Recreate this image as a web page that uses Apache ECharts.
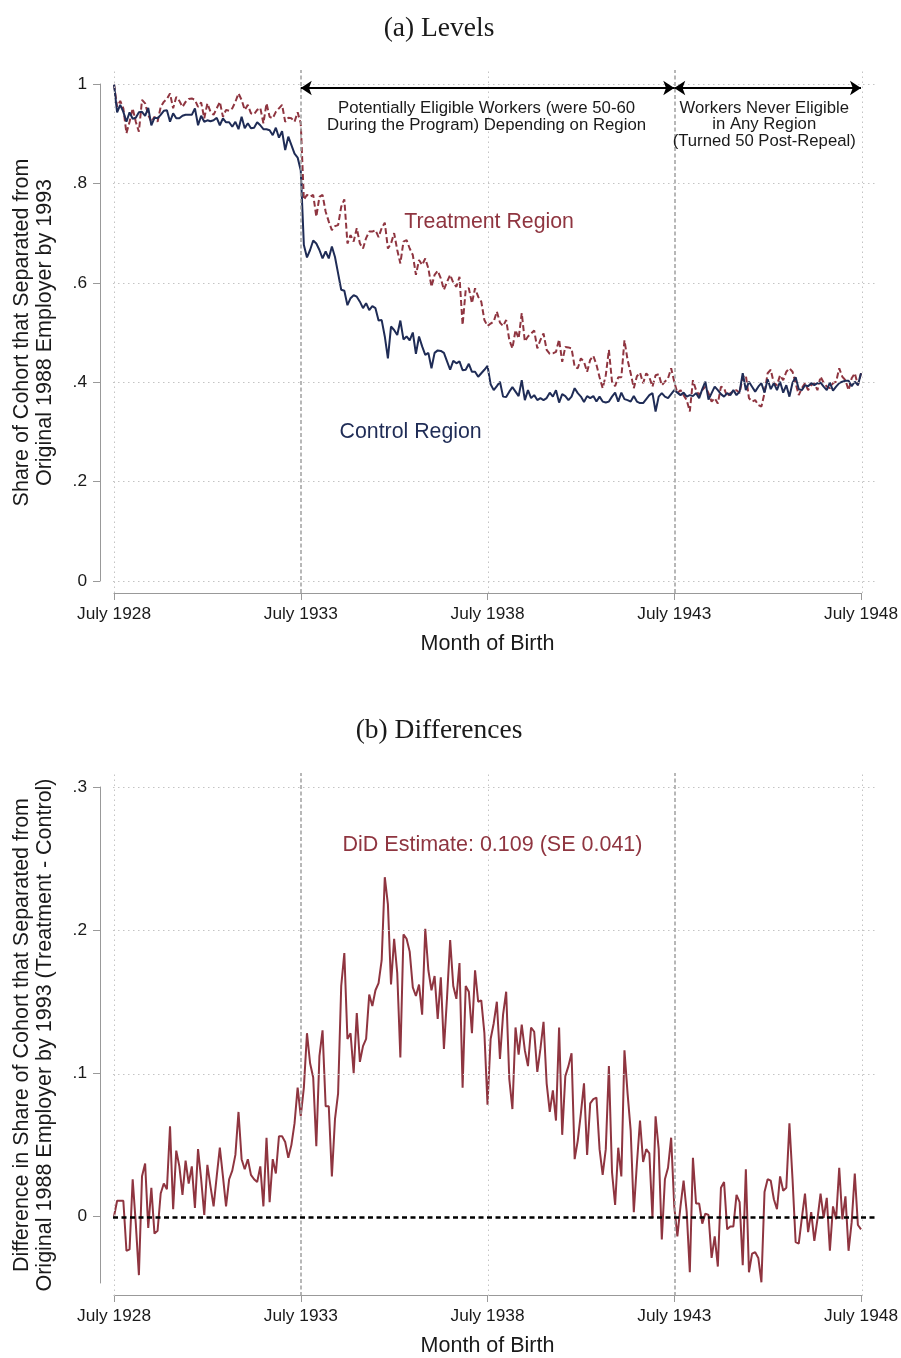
<!DOCTYPE html>
<html><head><meta charset="utf-8">
<script src="https://cdn.jsdelivr.net/npm/echarts@6/dist/echarts.min.js"></script>
<style>html,body{margin:0;padding:0;background:#fff}#c{width:901px;height:1358px}</style>
</head><body><div id="c"></div>
<script>
// x = months since July 1928 (0..240)
const xTickValues = [0, 60, 120, 180, 240];
const xTickLabels = ['July 1928', 'July 1933', 'July 1938', 'July 1943', 'July 1948'];
const yTicksA = [0, 0.2, 0.4, 0.6, 0.8, 1];
const yTicksB = [0, 0.1, 0.2, 0.3];

const control = [
1.0,0.943,0.958,0.944,0.924,0.943,0.930,0.932,0.943,0.944,
0.936,0.952,0.917,0.932,0.931,0.938,0.946,0.947,0.924,0.941,
0.931,0.931,0.936,0.938,0.938,0.938,0.951,0.917,0.936,0.924,
0.927,0.925,0.927,0.932,0.917,0.931,0.923,0.923,0.914,0.924,
0.909,0.934,0.911,0.921,0.911,0.912,0.923,0.917,0.909,0.909,
0.907,0.897,0.912,0.892,0.905,0.867,0.894,0.877,0.860,0.852,
0.826,0.676,0.651,0.666,0.685,0.679,0.666,0.649,0.663,0.649,
0.673,0.652,0.619,0.586,0.584,0.555,0.569,0.575,0.572,0.562,
0.549,0.559,0.545,0.553,0.549,0.524,0.525,0.492,0.448,0.512,
0.505,0.495,0.524,0.486,0.492,0.484,0.500,0.457,0.492,0.472,
0.455,0.459,0.428,0.459,0.464,0.463,0.459,0.442,0.425,0.443,
0.438,0.442,0.424,0.425,0.437,0.421,0.421,0.411,0.418,0.425,
0.433,0.396,0.384,0.392,0.401,0.371,0.370,0.381,0.390,0.381,
0.372,0.404,0.364,0.384,0.368,0.374,0.364,0.368,0.364,0.368,
0.379,0.371,0.384,0.359,0.376,0.372,0.364,0.371,0.388,0.378,
0.371,0.360,0.372,0.368,0.372,0.361,0.371,0.361,0.359,0.361,
0.371,0.379,0.361,0.379,0.366,0.364,0.361,0.372,0.361,0.358,
0.358,0.366,0.374,0.378,0.341,0.371,0.378,0.371,0.368,0.376,
0.384,0.379,0.374,0.379,0.371,0.374,0.372,0.378,0.368,0.386,
0.401,0.365,0.378,0.391,0.384,0.376,0.371,0.378,0.374,0.384,
0.374,0.381,0.418,0.384,0.401,0.391,0.381,0.391,0.398,0.379,
0.406,0.386,0.398,0.384,0.401,0.379,0.394,0.371,0.399,0.410,
0.386,0.384,0.394,0.392,0.398,0.394,0.398,0.399,0.391,0.384,
0.399,0.383,0.391,0.398,0.401,0.403,0.403,0.392,0.401,0.394,
0.418];

const treatment = [
1.0,0.954,0.966,0.951,0.901,0.924,0.951,0.924,0.904,0.968,
0.961,0.938,0.924,0.934,0.924,0.954,0.964,0.970,0.981,0.951,
0.974,0.966,0.954,0.964,0.970,0.971,0.968,0.954,0.963,0.931,
0.961,0.944,0.938,0.951,0.964,0.934,0.948,0.946,0.951,0.964,
0.981,0.968,0.948,0.958,0.941,0.939,0.948,0.952,0.921,0.961,
0.934,0.931,0.944,0.951,0.958,0.924,0.932,0.931,0.924,0.943,
0.921,0.767,0.777,0.773,0.777,0.733,0.773,0.777,0.743,0.723,
0.706,0.714,0.716,0.753,0.768,0.679,0.696,0.683,0.710,0.679,
0.669,0.690,0.703,0.703,0.706,0.692,0.710,0.721,0.669,0.679,
0.700,0.666,0.639,0.683,0.686,0.669,0.656,0.616,0.646,0.636,
0.649,0.629,0.592,0.616,0.624,0.609,0.586,0.602,0.616,0.600,
0.592,0.612,0.515,0.586,0.589,0.559,0.589,0.572,0.562,0.525,
0.513,0.518,0.522,0.542,0.520,0.513,0.525,0.485,0.468,0.505,
0.488,0.539,0.482,0.492,0.498,0.504,0.468,0.485,0.498,0.465,
0.457,0.458,0.461,0.486,0.441,0.471,0.470,0.468,0.431,0.428,
0.448,0.441,0.421,0.445,0.453,0.435,0.410,0.388,0.414,0.465,
0.401,0.392,0.410,0.410,0.484,0.445,0.418,0.388,0.412,0.419,
0.398,0.418,0.410,0.391,0.414,0.416,0.394,0.401,0.408,0.428,
0.401,0.378,0.384,0.374,0.364,0.341,0.404,0.384,0.374,0.384,
0.391,0.378,0.361,0.368,0.357,0.391,0.388,0.371,0.378,0.381,
0.384,0.378,0.411,0.414,0.368,0.361,0.364,0.354,0.351,0.378,
0.418,0.425,0.398,0.394,0.414,0.404,0.421,0.428,0.421,0.398,
0.374,0.388,0.398,0.384,0.394,0.398,0.384,0.411,0.399,0.391,
0.388,0.398,0.401,0.428,0.411,0.404,0.384,0.408,0.418,0.394,
0.418];

const difference = [
0.000,0.011,0.011,0.011,-0.024,-0.023,0.026,-0.005,-0.041,0.028,
0.037,-0.008,0.020,-0.012,-0.010,0.016,0.023,0.019,0.063,0.005,
0.046,0.035,0.015,0.039,0.023,0.035,0.006,0.047,0.026,0.001,
0.036,0.021,0.007,0.028,0.048,0.028,0.007,0.026,0.032,0.043,
0.073,0.040,0.033,0.040,0.029,0.026,0.024,0.035,0.007,0.055,
0.010,0.040,0.030,0.056,0.056,0.052,0.041,0.050,0.065,0.090,
0.070,0.090,0.128,0.107,0.097,0.049,0.112,0.130,0.077,0.077,
0.028,0.068,0.086,0.161,0.184,0.124,0.128,0.100,0.142,0.108,
0.119,0.124,0.155,0.147,0.158,0.163,0.179,0.237,0.218,0.162,
0.194,0.170,0.111,0.197,0.194,0.185,0.160,0.154,0.162,0.141,
0.201,0.172,0.158,0.168,0.138,0.167,0.117,0.153,0.193,0.161,
0.152,0.177,0.090,0.161,0.157,0.128,0.172,0.150,0.151,0.128,
0.078,0.124,0.135,0.150,0.110,0.141,0.157,0.096,0.075,0.132,
0.113,0.134,0.116,0.105,0.132,0.129,0.101,0.117,0.136,0.093,
0.073,0.088,0.067,0.132,0.057,0.098,0.105,0.114,0.040,0.053,
0.072,0.093,0.043,0.079,0.082,0.083,0.047,0.029,0.047,0.105,
0.031,0.008,0.048,0.028,0.116,0.086,0.060,0.003,0.037,0.067,
0.038,0.047,0.044,-0.001,0.070,0.047,-0.016,0.026,0.034,0.055,
0.007,-0.014,0.007,0.025,0.003,-0.039,0.041,0.009,0.009,-0.005,
0.002,0.001,-0.029,-0.014,-0.035,0.020,0.024,-0.009,-0.007,-0.007,
0.015,0.010,-0.034,0.033,-0.039,-0.026,-0.025,-0.029,-0.046,0.017,
0.026,0.025,0.012,0.005,0.028,0.018,0.020,0.065,0.026,-0.018,
-0.019,-0.001,0.016,-0.011,0.003,-0.017,-0.002,0.016,-0.001,0.013,
-0.024,0.007,-0.002,0.034,-0.002,0.014,-0.024,-0.004,0.030,-0.006,
-0.009];

const NAVY = '#1F2C56';
const MAROON = '#8F3540';
const TXT = '#1a1a1a';
const AXIS = '#999999';
const FONT = 'Liberation Sans, Arial, sans-serif';

const fmtY = v => {
  if (Math.abs(v) < 1e-9) return '0';
  if (Math.abs(v - 1) < 1e-9) return '1';
  return v.toFixed(1).replace(/^0/, '');
};
const fmtX = v => {
  const i = xTickValues.indexOf(Math.round(v));
  return i >= 0 ? xTickLabels[i] : '';
};
const pairs = arr => arr.map((v, i) => [i, v]);

const dotted = { color: '#c4c4c4', width: 1, type: [1.5, 3.5] };
const refDash = { color: '#a0a0a0', width: 1.5, type: [4, 2.5] };

function dataXAxis(gridIndex) {
  return {
    gridIndex, type: 'value', min: 0, max: 240, interval: 60, offset: 12,
    axisLine: { show: true, onZero: false, lineStyle: { color: AXIS, width: 1 } },
    axisTick: { show: true, length: 7, lineStyle: { color: AXIS, width: 1 } },
    axisLabel: { formatter: fmtX, fontSize: 17.3, color: TXT, margin: 13, fontFamily: FONT },
    splitLine: { show: false },
    name: 'Month of Birth', nameLocation: 'middle', nameGap: 40,
    nameTextStyle: { fontSize: 21.5, color: TXT, fontFamily: FONT }
  };
}
function dataYAxis(gridIndex, min, max, ticks, name) {
  return {
    gridIndex, type: 'value', min, max, offset: 14,
    axisLine: { show: true, onZero: false, lineStyle: { color: AXIS, width: 1 } },
    axisTick: { show: true, length: 7, lineStyle: { color: AXIS, width: 1 }, customValues: ticks },
    axisLabel: { formatter: fmtY, fontSize: 17.3, color: TXT, margin: 13, fontFamily: FONT, customValues: ticks },
    splitLine: { show: false },
    name, nameLocation: 'middle', nameRotate: 90, nameGap: 43,
    nameTextStyle: { fontSize: 21.5, lineHeight: 23, color: TXT, fontFamily: FONT, align: 'center' }
  };
}

function bgLines(xIdx, yIdx, hTicks, zeroStrong) {
  const data = [];
  [0, 120, 240].forEach(x => data.push({ xAxis: x, lineStyle: dotted }));
  hTicks.forEach(y => {
    if (zeroStrong && y === 0) return;
    data.push({ yAxis: y, lineStyle: dotted });
  });
  [60, 180].forEach(x => data.push({ xAxis: x, lineStyle: refDash }));
  if (zeroStrong) data.push({ yAxis: 0, lineStyle: { color: '#000', width: 2.5, type: [5, 3.5] } });
  return {
    type: 'line', xAxisIndex: xIdx, yAxisIndex: yIdx, data: [], silent: true,
    markLine: { silent: true, symbol: 'none', label: { show: false }, animation: false, data }
  };
}

const chart = echarts.init(document.getElementById('c'), null, { renderer: 'canvas' });
const option = {
  animation: false,
  backgroundColor: '#fff',
  textStyle: { fontFamily: FONT },
  title: [
    { text: '(a) Levels', left: 434, top: 10, textAlign: 'center',
      textStyle: { fontFamily: 'Liberation Serif, serif', fontSize: 27.5, fontWeight: 'normal', color: TXT } },
    { text: '(b) Differences', left: 434, top: 712, textAlign: 'center',
      textStyle: { fontFamily: 'Liberation Serif, serif', fontSize: 27.5, fontWeight: 'normal', color: TXT } }
  ],
  grid: [
    { left: 113, top: 70, width: 763, height: 523 },
    { left: 114, top: 84, width: 748, height: 497 },
    { left: 113, top: 773, width: 763, height: 523 },
    { left: 114, top: 787, width: 748, height: 497 }
  ],
  xAxis: [
    { gridIndex: 0, type: 'value', min: -0.321, max: 244.49, show: false },
    dataXAxis(1),
    { gridIndex: 2, type: 'value', min: -0.321, max: 244.49, show: false },
    dataXAxis(3)
  ],
  yAxis: [
    { gridIndex: 0, type: 'value', min: -0.02414, max: 1.02817, show: false },
    dataYAxis(1, 0, 1, yTicksA, 'Share of Cohort that Separated from\nOriginal 1988 Employer by 1993'),
    { gridIndex: 2, type: 'value', min: -0.05487, max: 0.30976, show: false },
    dataYAxis(3, -0.0465, 0.3, yTicksB, 'Difference in Share of Cohort that Separated from\nOriginal 1988 Employer by 1993 (Treatment - Control)')
  ],
  series: [
    bgLines(0, 0, yTicksA, false),
    bgLines(2, 2, yTicksB, true),
    {
      name: 'Treatment Region', type: 'line', xAxisIndex: 1, yAxisIndex: 1,
      data: pairs(treatment), showSymbol: false, clip: false, z: 3,
      lineStyle: { color: MAROON, width: 2, type: [6, 3] }
    },
    {
      name: 'Control Region', type: 'line', xAxisIndex: 1, yAxisIndex: 1,
      data: pairs(control), showSymbol: false, clip: false, z: 4,
      lineStyle: { color: NAVY, width: 2 },
      markLine: {
        silent: true, symbol: ['arrow', 'arrow'], symbolSize: 11, animation: false,
        label: { show: false },
        lineStyle: { color: '#000', width: 2, type: 'solid' },
        data: [
          [{ coord: [60, 0.992] }, { coord: [180, 0.992] }],
          [{ coord: [180, 0.992] }, { coord: [240, 0.992] }]
        ]
      },
      markPoint: {
        silent: true, symbol: 'circle', symbolSize: 0, animation: false,
        itemStyle: { color: 'rgba(0,0,0,0)' },
        label: { show: true, position: 'inside', fontFamily: FONT },
        data: [
          { coord: [119.7, 0.934], label: { formatter: 'Potentially Eligible Workers (were 50-60\nDuring the Program) Depending on Region', fontSize: 16.8, lineHeight: 17.5, color: TXT } },
          { coord: [208.9, 0.918], label: { formatter: 'Workers Never Eligible\nin Any Region\n(Turned 50 Post-Repeal)', fontSize: 16.7, lineHeight: 16.5, color: TXT } },
          { coord: [120.5, 0.722], label: { formatter: 'Treatment Region', fontSize: 21.3, color: MAROON } },
          { coord: [95.3, 0.300], label: { formatter: 'Control Region', fontSize: 21.3, color: NAVY } }
        ]
      }
    },
    {
      name: 'Difference', type: 'line', xAxisIndex: 3, yAxisIndex: 3,
      data: pairs(difference), showSymbol: false, clip: false, z: 4,
      lineStyle: { color: MAROON, width: 2 },
      markPoint: {
        silent: true, symbol: 'circle', symbolSize: 0, animation: false,
        itemStyle: { color: 'rgba(0,0,0,0)' },
        label: { show: true, position: 'inside', fontFamily: FONT },
        data: [
          { coord: [121.6, 0.2594], label: { formatter: 'DiD Estimate: 0.109 (SE 0.041)', fontSize: 21.5, color: MAROON } }
        ]
      }
    }
  ]
};
chart.setOption(option);
</script>
</body></html>
